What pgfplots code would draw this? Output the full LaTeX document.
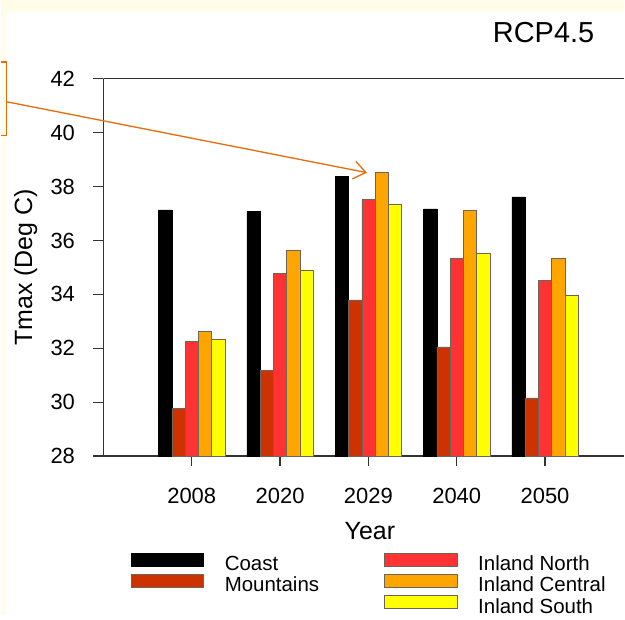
\documentclass[border=0pt]{standalone}
\usepackage{fontspec}
\setmainfont{Liberation Sans}
\usepackage{pgfplots}
\usepackage{pgfplotstable}
\pgfplotsset{compat=1.18}
\usetikzlibrary{arrows.meta,backgrounds}
\definecolor{cream}{RGB}{255,253,232}
\definecolor{mount}{RGB}{204,51,0}
\definecolor{inorth}{RGB}{255,51,51}
\definecolor{icent}{RGB}{255,165,0}
\definecolor{isouth}{RGB}{255,255,0}
\definecolor{arrowc}{RGB}{228,108,10}
\definecolor{edgec}{RGB}{110,100,90}

\pgfplotstableread{
x coast mount north central south
0 37.14 29.77 32.25 32.63 32.34
1 37.08 31.17 34.77 35.62 34.89
2 38.37 33.80 37.53 38.53 37.35
3 37.17 32.05 35.34 37.11 35.54
4 37.62 30.16 34.53 35.34 33.97
}\datatable

\pgfplotsset{mybox/.style={legend image code/.code={\draw[##1] (0pt,0.5pt) rectangle (73pt,13.5pt);}}}

\begin{document}
\begin{tikzpicture}
\begin{axis}[
  scale only axis,
  width=522pt, height=378pt,
  xmin=-1, xmax=4.898, ymin=28, ymax=42,
  axis lines=left,
  ybar=0pt, bar width=13.3pt,
  xtick={0,...,4}, xticklabels={2008,2020,2029,2040,2050},
  ytick={28,30,...,42},
  tick align=outside,
  major tick length=10pt,
  every tick/.style={black!80, line width=1.3pt},
  axis line style={-, black!80, line width=1.3pt},
  tick label style={font=\fontsize{22}{26}\selectfont},
  /pgf/number format/assume math mode=true,
  yticklabel style={xshift=-15pt},
  xticklabel style={yshift=-19pt},
  xlabel={Year},
  xlabel style={at={(axis description cs:0.5115,-0.198)}, anchor=center, font=\fontsize{25}{30}\selectfont},
  ylabel={Tmax (Deg C)},
  ylabel style={at={(axis description cs:-0.1494,0.5)}, anchor=center, font=\fontsize{25}{30}\selectfont},
  title={RCP4.5},
  title style={at={(axis description cs:0.845,1.108)}, anchor=center, font=\fontsize{29}{34}\selectfont},
  legend columns=2,
  legend cell align=left,
  legend style={at={(axis description cs:0.0517,-0.2553)}, anchor=north west, draw=none, fill=none, inner sep=0pt,
    font=\fontsize{20.5}{24}\selectfont, row sep=-3pt,
    nodes={inner sep=0pt, text height=15pt, text depth=6pt},
    /tikz/every odd column/.append style={column sep=21pt},
    /tikz/every even column/.append style={column sep=65pt}},
]
\addplot[forget plot, bar shift=-26.6pt, fill=black, draw=black, line width=0.5pt] table[x=x,y=coast]{\datatable};
\addplot[forget plot, bar shift=-13.3pt, fill=mount, draw=edgec, line width=0.5pt] table[x=x,y=mount]{\datatable};
\addplot[forget plot, bar shift=0pt, fill=inorth, draw=edgec, line width=0.5pt] table[x=x,y=north]{\datatable};
\addplot[forget plot, bar shift=13.3pt, fill=icent, draw=edgec, line width=0.5pt] table[x=x,y=central]{\datatable};
\addplot[forget plot, bar shift=26.6pt, fill=isouth, draw=edgec, line width=0.5pt] table[x=x,y=south]{\datatable};
\draw[black!80, line width=1.3pt] (rel axis cs:0,1) -- (rel axis cs:1,1);
\coordinate (O) at (rel axis cs:0,0);
\addlegendimage{mybox, fill=black, draw=black}
\addlegendentry{Coast}
\addlegendimage{mybox, fill=inorth, draw=edgec}
\addlegendentry{Inland North}
\addlegendimage{mybox, fill=mount, draw=edgec}
\addlegendentry{Mountains}
\addlegendimage{mybox, fill=icent, draw=edgec}
\addlegendentry{Inland Central}
\addlegendimage{empty legend}
\addlegendentry{}
\addlegendimage{mybox, fill=isouth, draw=edgec}
\addlegendentry{Inland South}
\end{axis}
\begin{scope}[shift={(O)}, x=1pt, y=1pt, shift={(-103pt,-159pt)}]
\draw[arrowc, line width=1.3pt] (0,480) -- (6,480) -- (6,554) -- (0,554);
\draw[arrowc, line width=1.3pt, -{Straight Barb[length=12pt,width=18pt]}] (6,514) -- (367,443);
\end{scope}
\begin{pgfonlayer}{background}
\begin{scope}[shift={(O)}, x=1pt, y=1pt, shift={(-103pt,-159pt)}]
\fill[cream] (0,0) rectangle (625,616);
\fill[white] (5,0) rectangle (625,604);
\end{scope}
\end{pgfonlayer}
\end{tikzpicture}
\end{document}
